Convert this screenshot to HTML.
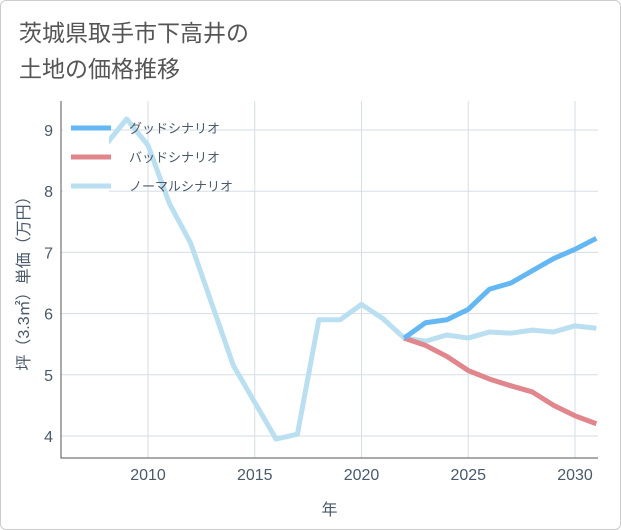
<!DOCTYPE html>
<html><head><meta charset="utf-8">
<style>
body{margin:0;background:#fff;font-family:"Liberation Sans","Noto Sans CJK JP",sans-serif;}
#wrap{position:relative;width:619px;height:528px;border:1px solid #ccc;border-radius:6px;overflow:hidden;background:#fff}
</style></head><body>
<div id="wrap">
<svg id="chart" width="621" height="530">
<text x="18" y="40" font-size="23" fill="#555" font-family="Liberation Sans,Noto Sans CJK JP,sans-serif">茨城県取手市下高井の</text>
<text x="18" y="76" font-size="23" fill="#555" font-family="Liberation Sans,Noto Sans CJK JP,sans-serif">土地の価格推移</text>
<g id="grid"></g><g id="series"></g><g id="legend"></g>
</svg>
</div>
<script>
const years=[2008,2009,2010,2011,2012,2013,2014,2015,2016,2017,2018,2019,2020,2021,2022,2023,2024,2025,2026,2027,2028,2029,2030,2031];
const normal=[8.75,9.18,8.75,7.8,7.15,6.15,5.15,4.55,3.95,4.03,5.9,5.9,6.15,5.92,5.6,5.55,5.65,5.6,5.7,5.68,5.73,5.7,5.8,5.76];
const fYears=[2022,2023,2024,2025,2026,2027,2028,2029,2030,2031];
const good=[5.6,5.85,5.9,6.07,6.4,6.5,6.7,6.9,7.05,7.23];
const bad=[5.6,5.48,5.3,5.07,4.93,4.82,4.72,4.5,4.33,4.2];
const xTicks=[2010,2015,2020,2025,2030];
const yTicks=[4,5,6,7,8,9];
const L=60,R=597,T=100,B=457;
const X=y=>147+(y-2010)*21.35;
const Y=v=>435-(v-4)*61.2;
const NS="http://www.w3.org/2000/svg";
function mk(tag,attrs,parent,txt){const e=document.createElementNS(NS,tag);for(const k in attrs)e.setAttribute(k,attrs[k]);if(txt!=null)e.textContent=txt;parent.appendChild(e);return e;}
const g=document.getElementById('grid'),s=document.getElementById('series'),lg=document.getElementById('legend');
xTicks.forEach(t=>{const l=mk('line',{x1:X(t),x2:X(t),y1:T,y2:B,stroke:'#d5dde5'},g);

const tx=mk('text',{x:X(t),y:B+22,'text-anchor':'middle','font-size':16,fill:'#4a5a6a'},g,t);
});
yTicks.forEach(t=>{const l=mk('line',{x1:L,x2:R,y1:Y(t),y2:Y(t),stroke:'#d5dde5'},g);

const tx=mk('text',{x:L-8,y:Y(t)+6,'text-anchor':'end','font-size':16,fill:'#4a5a6a'},g,t);
});
const ax=mk('path',{d:`M${L},${T}V${B}H${R}`,fill:'none',stroke:'#555'},g);

const xt=mk('text',{x:(L+R)/2,y:514,'text-anchor':'middle','font-size':16,fill:'#4a5a6a'},g,'年');

const yt=mk('text',{x:0,y:0,'text-anchor':'middle','font-size':16,fill:'#4a5a6a',transform:`translate(28,${(T+B)/2}) rotate(-90)`},g,'坪（3.3㎡）単価（万円）');

const cp=mk('clipPath',{id:'cp'},s);
mk('rect',{x:L,y:T,width:R-L,height:B-T},cp);
function line(xs,vs,color,name){const p=mk('path',{d:xs.map((x,i)=>(i?'L':'M')+X(x)+','+Y(vs[i])).join(''),fill:'none',stroke:color,'stroke-width':5,'stroke-linejoin':'round','clip-path':'url(#cp)'},s);
}
line(years,normal,'#b9dff0','normal-line');
line(fYears,bad,'#e0868c','bad-line');
line(fYears,good,'#65b7f3','good-line');
const bg=mk('rect',{x:62,y:108,width:46,height:92,fill:'#fff'},lg);

[['グッドシナリオ','#65b7f3'],['バッドシナリオ','#e0868c'],['ノーマルシナリオ','#b9dff0']].forEach((e,i)=>{
const y=127+i*29;const l=mk('line',{x1:70,x2:110,y1:y,y2:y,stroke:e[1],'stroke-width':5},lg);

const t=mk('text',{x:128,y:y+5,'font-size':13,fill:'#4a5a6a'},lg,e[0]);
});
</script>
</body></html>
